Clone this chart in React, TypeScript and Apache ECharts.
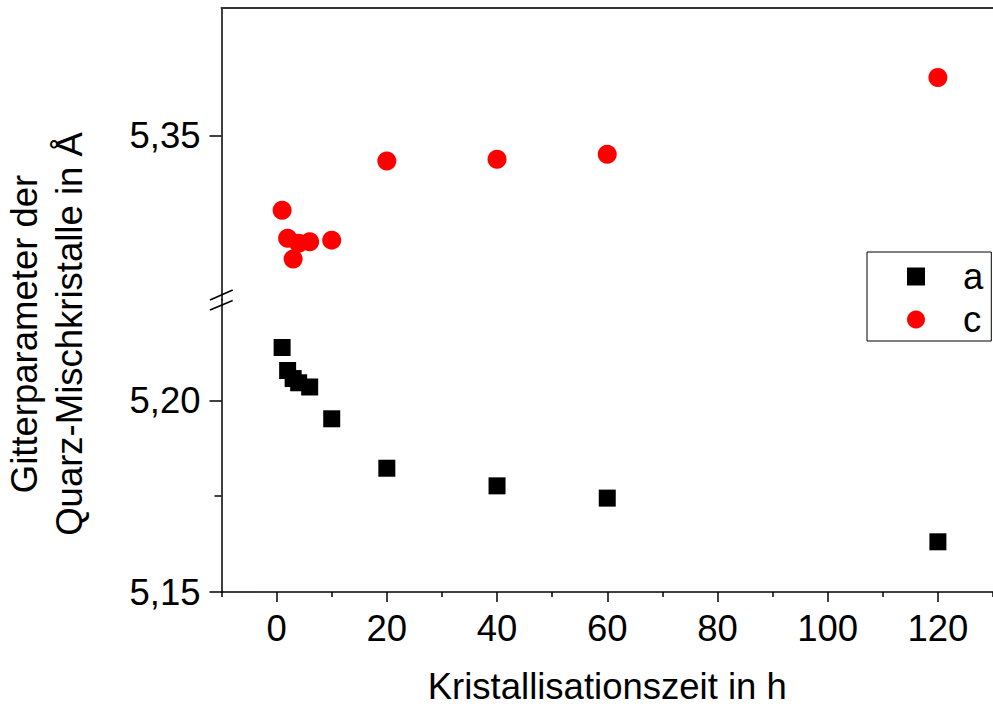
import React, { useEffect, useRef } from "react";
import * as echarts from "echarts";

const hours = [1, 2, 3, 4, 6, 10, 20, 40, 60, 120];
const aValues = [5.2138, 5.2078, 5.2057, 5.2046, 5.2035, 5.1952, 5.1823, 5.1777, 5.1745, 5.1631];
const cValues = [5.3306, 5.3233, 5.3179, 5.322, 5.3224, 5.3228, 5.3434, 5.3439, 5.3452, 5.3652];
const xMajorTicks = [0, 20, 40, 60, 80, 100, 120];
const xMinorTicks = [-10, 10, 30, 50, 70, 90, 110, 130];
const yTopTicks = [5.35];
const yBottomTicks = [5.15, 5.2];
const yBottomMinor = [5.175];

const FONT = "'Liberation Sans', Arial, sans-serif";
const FS = 36.5;

export default function App() {
  const ref = useRef<HTMLDivElement>(null);
  useEffect(() => {
    if (!ref.current) return;
    const chart = echarts.init(ref.current, null, { renderer: "svg" });
    const fmt = (v: number) => v.toFixed(2).replace(".", ",");
    const lineStyle = { color: "#000", width: 1.5 };
    const gridLeft = 221.5;
    const gridWidth = 776;
    const option: any = {
      animation: false,
      backgroundColor: "#fff",
      grid: [
        { left: gridLeft, top: 8, width: gridWidth, height: 292, containLabel: false },
        { left: gridLeft, top: 300, width: gridWidth, height: 292.3, containLabel: false },
      ],
      xAxis: [
        {
          gridIndex: 0, type: "value", min: -10, max: 130, position: "top",
          axisLine: { show: true, onZero: false, lineStyle: { color: "#333", width: 2 } },
          axisTick: { show: false }, axisLabel: { show: false }, splitLine: { show: false },
        },
        {
          gridIndex: 1, type: "value", min: -10, max: 130, position: "bottom",
          axisLine: { show: true, onZero: false, lineStyle },
          axisTick: { show: true, customValues: xMajorTicks, length: 10, lineStyle },
          axisLabel: { show: true, customValues: xMajorTicks, fontSize: FS, fontFamily: FONT, color: "#000", margin: 18 },
          splitLine: { show: false },
          name: "Kristallisationszeit in h", nameLocation: "middle", nameGap: 76,
          nameTextStyle: { fontSize: FS, fontFamily: FONT, color: "#000" },
        },
        {
          gridIndex: 1, type: "value", min: -10, max: 130, position: "bottom",
          axisLine: { show: false, onZero: false },
          axisTick: { show: true, customValues: xMinorTicks, length: 5, lineStyle },
          axisLabel: { show: false }, splitLine: { show: false },
        },
      ],
      yAxis: [
        {
          gridIndex: 0, type: "value", min: 5.3072, max: 5.3833, position: "left",
          axisLine: { show: true, onZero: false, lineStyle },
          axisTick: { show: true, customValues: yTopTicks, length: 12, lineStyle },
          axisLabel: { show: true, customValues: yTopTicks, formatter: fmt, fontSize: FS, fontFamily: FONT, color: "#000", margin: 21 },
          splitLine: { show: false },
        },
        {
          gridIndex: 1, type: "value", min: 5.15, max: 5.2262, position: "left",
          axisLine: { show: true, onZero: false, lineStyle },
          axisTick: { show: true, customValues: yBottomTicks, length: 12, lineStyle },
          axisLabel: { show: true, customValues: yBottomTicks, formatter: fmt, fontSize: FS, fontFamily: FONT, color: "#000", margin: 21 },
          splitLine: { show: false },
        },
        {
          gridIndex: 1, type: "value", min: 5.15, max: 5.2262, position: "left",
          axisLine: { show: false, onZero: false },
          axisTick: { show: true, customValues: yBottomMinor, length: 7, lineStyle },
          axisLabel: { show: false }, splitLine: { show: false },
        },
      ],
      legend: {
        orient: "vertical", left: 867, top: 252,
        borderColor: "#000", borderWidth: 1, borderRadius: 0,
        padding: [6, 8, 3, 40], itemGap: 6, itemWidth: 18, itemHeight: 18,
        textStyle: { fontSize: FS, fontFamily: FONT, color: "#000", padding: [0, 0, 0, 33] },
        data: ["a", "c"],
      },
      series: [
        {
          name: "a", type: "scatter", xAxisIndex: 1, yAxisIndex: 1,
          symbol: "rect", symbolSize: 17, itemStyle: { color: "#000", opacity: 1 },
          data: hours.map((h, i) => [h, aValues[i]]),
        },
        {
          name: "c", type: "scatter", xAxisIndex: 0, yAxisIndex: 0,
          symbol: "circle", symbolSize: 19, itemStyle: { color: "#ff0000", opacity: 1 },
          data: hours.map((h, i) => [h, cValues[i]]),
        },
      ],
      graphic: [
        {
          type: "text", x: 47, y: 334, rotation: Math.PI / 2,
          style: {
            text: "Gitterparameter der\nQuarz-Mischkristalle in Å",
            fontSize: FS, fontFamily: FONT, fill: "#000",
            align: "center", verticalAlign: "middle", lineHeight: 45,
          },
        },
        { type: "line", shape: { x1: 210, y1: 300, x2: 232.7, y2: 290 }, style: { stroke: "#000", lineWidth: 1.5 } },
        { type: "line", shape: { x1: 210, y1: 310, x2: 232.7, y2: 300.5 }, style: { stroke: "#000", lineWidth: 1.5 } },
      ],
    };
    chart.setOption(option);
    return () => chart.dispose();
  }, []);
  return (
    <div
      ref={ref}
      style={{ position: "fixed", left: 0, top: 0, width: 993, height: 706, background: "#fff" }}
    />
  );
}
